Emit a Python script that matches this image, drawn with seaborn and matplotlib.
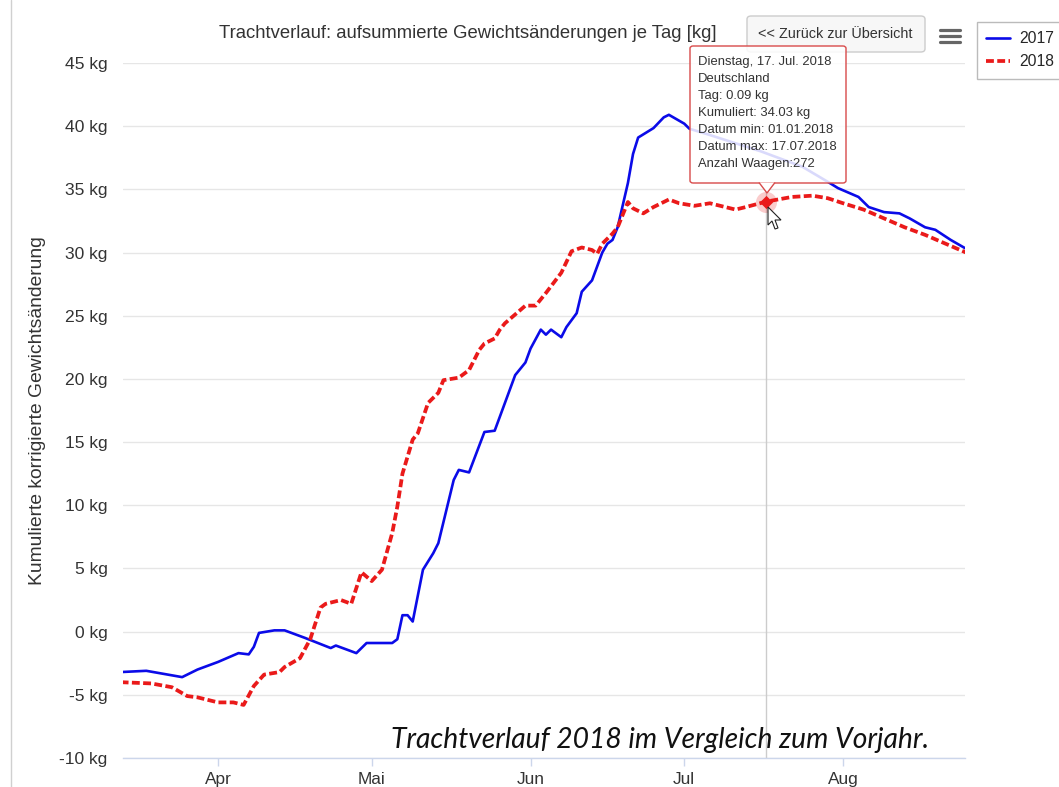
import pandas as pd
import matplotlib.pyplot as plt
import matplotlib.patches as mpatches
import matplotlib.lines as mlines
import seaborn as sns

# --- data (month-day, both years on one calendar axis) ---
dates_2017 = ["03-13", "03-18", "03-25", "03-28", "04-01", "04-05", "04-07", "04-08",
              "04-09", "04-12", "04-14", "04-18", "04-23", "04-24", "04-28", "04-30",
              "05-05", "05-06", "05-07", "05-08", "05-09", "05-11", "05-13", "05-14",
              "05-17", "05-18", "05-20", "05-23", "05-25", "05-29", "05-31", "06-01",
              "06-03", "06-04", "06-05", "06-07", "06-08", "06-10", "06-11", "06-13",
              "06-15", "06-16", "06-17", "06-18", "06-20", "06-21", "06-22", "06-25",
              "06-27", "06-28", "07-01", "07-02", "07-06", "07-16", "07-24", "07-29",
              "07-31", "08-04", "08-06", "08-09", "08-12", "08-14", "08-17", "08-19",
              "08-22", "08-25"]
kg_2017 = [-3.2, -3.1, -3.6, -3.0, -2.4, -1.7, -1.8, -1.2,
           -0.1, 0.1, 0.1, -0.5, -1.3, -1.1, -1.7, -0.9,
           -0.9, -0.6, 1.3, 1.3, 0.8, 4.9, 6.2, 7.0,
           12.0, 12.8, 12.6, 15.8, 15.9, 20.3, 21.3, 22.4,
           23.9, 23.5, 23.9, 23.3, 24.1, 25.2, 26.9, 27.8,
           30.0, 30.7, 31.0, 32.0, 35.5, 37.8, 39.1, 39.85,
           40.7, 40.9, 40.2, 39.8, 39.3, 38.0, 36.8, 35.6,
           35.1, 34.4, 33.6, 33.2, 33.1, 32.7, 32.0, 31.8,
           31.0, 30.3]

dates_2018 = ["03-13", "03-19", "03-23", "03-26", "03-28", "04-01", "04-04", "04-06",
              "04-08", "04-10", "04-13", "04-14", "04-17", "04-19", "04-21", "04-22",
              "04-25", "04-27", "04-29", "05-01", "05-03", "05-05", "05-06", "05-07",
              "05-09", "05-10", "05-12", "05-14", "05-15", "05-18", "05-20", "05-22",
              "05-23", "05-25", "05-26", "05-27", "05-29", "05-31", "06-02", "06-04",
              "06-07", "06-09", "06-11", "06-13", "06-14", "06-15", "06-17", "06-18",
              "06-20", "06-21", "06-23", "06-25", "06-28", "06-30", "07-03", "07-06",
              "07-11", "07-13", "07-17", "07-22", "07-26", "07-29", "08-01", "08-05",
              "08-09", "08-13", "08-17", "08-21", "08-25"]
kg_2018 = [-4.0, -4.1, -4.4, -5.1, -5.2, -5.6, -5.6, -5.8,
           -4.3, -3.4, -3.2, -2.8, -2.1, -0.6, 1.9, 2.2,
           2.5, 2.2, 4.7, 4.0, 4.9, 7.8, 9.9, 12.5,
           15.2, 15.7, 18.1, 18.9, 19.9, 20.1, 20.7, 22.3,
           22.8, 23.2, 23.9, 24.4, 25.1, 25.8, 25.8, 26.8,
           28.4, 30.1, 30.4, 30.2, 29.9, 30.7, 31.5, 32.0,
           34.0, 33.5, 33.1, 33.6, 34.2, 33.9, 33.7, 33.9,
           33.4, 33.6, 34.03, 34.4, 34.5, 34.3, 33.9, 33.4,
           32.7, 32.0, 31.4, 30.7, 30.0]

y_ticks = [-10, -5, 0, 5, 10, 15, 20, 25, 30, 35, 40, 45]
month_ticks = ["04-01", "05-01", "06-01", "07-01", "08-01"]
month_labels = ["Apr", "Mai", "Jun", "Jul", "Aug"]

tooltip_lines = ["Dienstag, 17. Jul. 2018", "Deutschland", "Tag: 0.09 kg",
                 "Kumuliert: 34.03 kg", "Datum min: 01.01.2018",
                 "Datum max: 17.07.2018", "Anzahl Waagen:272"]
hover_date = "07-17"
hover_kg = 34.03


def to_dt(md):
    return pd.to_datetime(["2018-" + d for d in md])


df17 = pd.DataFrame({"datum": to_dt(dates_2017), "kg": kg_2017})
df18 = pd.DataFrame({"datum": to_dt(dates_2018), "kg": kg_2018})

sns.set_theme(style="white")
plt.rcParams["font.family"] = ["Liberation Sans", "DejaVu Sans"]

W, H = 1059, 787
fig = plt.figure(figsize=(W / 100, H / 100), dpi=100)
ax = fig.add_axes([123 / W, 1 - 758 / H, (965 - 123) / W, (758 - 63) / H])


def fx(x):
    return x / W


def fy(y):
    return 1 - y / H


BLUE = "#0b0be8"
RED = "#ea1a1a"
DASH = (2.1, 0.9)

sns.lineplot(data=df17, x="datum", y="kg", ax=ax, color=BLUE, linewidth=1.9,
             label="2017", zorder=3)
sns.lineplot(data=df18, x="datum", y="kg", ax=ax, color=RED, linewidth=2.7,
             label="2018", zorder=4)
ax.lines[1].set_dashes(DASH)

ax.set_xlim(pd.Timestamp("2018-03-13 11:00"), pd.Timestamp("2018-08-24 19:00"))
ax.set_ylim(-10, 45)
ax.set_yticks(y_ticks)
ax.set_yticklabels([f"{v} kg" for v in y_ticks])
ax.set_xticks(to_dt(month_ticks))
ax.set_xticklabels(month_labels)
ax.set_xlabel("")
ax.set_ylabel("")

ax.grid(axis="y", color="#e6e6e6", linewidth=1)
ax.grid(axis="x", visible=False)
for s in ["top", "right", "left"]:
    ax.spines[s].set_visible(False)
ax.spines["bottom"].set_color("#ccd6eb")
ax.spines["bottom"].set_linewidth(1)
ax.tick_params(axis="y", length=0, pad=11, labelsize=12.6, labelcolor="#333333")
ax.tick_params(axis="x", length=6, width=1, color="#ccd6eb", pad=4,
               labelsize=12.4, labelcolor="#333333", bottom=True)

# crosshair, hovered point and halo
hx = pd.Timestamp("2018-" + hover_date)
ax.axvline(hx, ymin=0, ymax=(758 - 183) / (758 - 63), color="#cccccc", lw=1, zorder=2)
ax.scatter([hx], [hover_kg], s=230, color=RED, alpha=0.22, linewidths=0, zorder=5)
ax.scatter([hx], [hover_kg], s=45, marker="D", color=RED, linewidths=0, zorder=6)

ax.legend_.remove()
handles = [mlines.Line2D([], [], color=BLUE, lw=1.9),
           mlines.Line2D([], [], color=RED, lw=2.7, dashes=DASH)]
fig.legend(handles, ["2017", "2018"], loc="upper left",
           bbox_to_anchor=(fx(977), fy(22)), borderaxespad=0, frameon=True,
           fancybox=False, edgecolor="#aaaaaa", fontsize=11.3, handlelength=1.5,
           borderpad=0.6, labelspacing=0.5, handletextpad=0.6)

# title
fig.text(fx(468), fy(33), "Trachtverlauf: aufsummierte Gewichtsänderungen je Tag [kg]",
         ha="center", va="center", fontsize=13.3, color="#333333")

# y axis title
fig.text(fx(38), fy(411), "Kumulierte korrigierte Gewichtsänderung", rotation=90,
         ha="center", va="center", fontsize=13.9, color="#333333")

# left page border
fig.add_artist(mlines.Line2D([fx(11), fx(11)], [0, 1], color="#d0d0d0", lw=1,
                             transform=fig.transFigure))

# back button
fig.add_artist(mpatches.FancyBboxPatch((fx(747), fy(52)), fx(925) - fx(747), fy(16) - fy(52),
                                       boxstyle="round,pad=0,rounding_size=0.004",
                                       transform=fig.transFigure, facecolor="#f7f7f7",
                                       edgecolor="#cccccc", lw=1))
fig.text(fx(835), fy(34), "<< Zurück zur Übersicht", ha="center", va="center",
         fontsize=10.4, color="#333333")

# menu icon
for yy in [30, 36, 42]:
    fig.add_artist(mlines.Line2D([fx(940), fx(960)], [fy(yy), fy(yy)], color="#666666",
                                 lw=2.3, transform=fig.transFigure, solid_capstyle="round"))

# tooltip
box_xy = (fx(690), fy(183))
box_w, box_h = fx(846) - fx(690), fy(46) - fy(183)
fig.add_artist(mpatches.FancyBboxPatch(box_xy, box_w, box_h,
                                       boxstyle="round,pad=0,rounding_size=0.003",
                                       transform=fig.transFigure, facecolor="white",
                                       alpha=0.85, edgecolor="none", zorder=10))
fig.add_artist(mpatches.FancyBboxPatch(box_xy, box_w, box_h,
                                       boxstyle="round,pad=0,rounding_size=0.003",
                                       transform=fig.transFigure, facecolor="none",
                                       edgecolor="#d84a4a", lw=1, zorder=11))
fig.add_artist(mpatches.Polygon([[fx(759), fy(182.5)], [fx(767), fy(193)], [fx(775), fy(182.5)]],
                                closed=False, transform=fig.transFigure, facecolor="white",
                                edgecolor="#d84a4a", lw=1, zorder=12))
for i, line in enumerate(tooltip_lines):
    fig.text(fx(698), fy(62 + i * 17), line, ha="left", va="center", fontsize=9.4,
             color="#333333", zorder=13)

# mouse cursor
cursor = [(768, 207), (768, 225), (772, 221), (775, 229), (778, 228), (775, 220), (781, 220)]
fig.add_artist(mpatches.Polygon([[fx(a), fy(b)] for a, b in cursor], closed=True,
                                transform=fig.transFigure, facecolor="white",
                                edgecolor="#222222", lw=0.8, zorder=14))

# caption
fig.text(fx(660), fy(740), "Trachtverlauf 2018 im Vergleich zum Vorjahr.",
         ha="center", va="center", fontsize=20.3, style="italic", color="#111111",
         family=["Lato", "DejaVu Sans"])

fig.savefig("out.png", dpi=100)
